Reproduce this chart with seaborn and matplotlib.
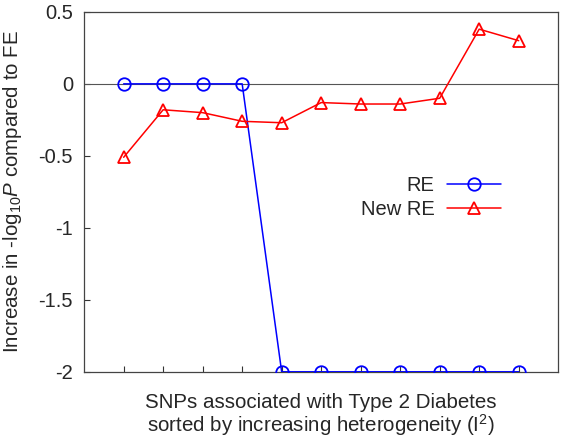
import numpy as np
import pandas as pd
import matplotlib
matplotlib.use("Agg")
import matplotlib.pyplot as plt
import seaborn as sns

# SNP index (sorted by increasing heterogeneity)
snp = list(range(1, 12))
re_vals = [0, 0, 0, 0, -2, -2, -2, -2, -2, -2, -2]
new_re_vals = [-0.51, -0.18, -0.20, -0.26, -0.27, -0.13, -0.14, -0.14, -0.10, 0.38, 0.30]
yticks = [-2, -1.5, -1, -0.5, 0, 0.5]
ytick_labels = ["-2", "-1.5", "-1", "-0.5", "0", "0.5"]

sns.set_style("white")
plt.rcParams["font.family"] = ["Liberation Sans", "DejaVu Sans"]
plt.rcParams["axes.unicode_minus"] = False
plt.rcParams["mathtext.fontset"] = "custom"
plt.rcParams["mathtext.rm"] = "Liberation Sans"
plt.rcParams["mathtext.it"] = "Liberation Sans:italic"

df = pd.DataFrame({"snp": snp, "RE": re_vals, "New RE": new_re_vals})

fig = plt.figure(figsize=(5.61, 4.4), dpi=100)
ax = fig.add_axes([0.150, 0.155, 0.845, 0.818])

ax.axhline(0, color="#555555", lw=0.8, zorder=1)

sns.lineplot(data=df, x="snp", y="RE", ax=ax, color="#0000ff", lw=1.1,
             marker="o", markersize=9, markerfacecolor="none",
             markeredgecolor="#0000ff", markeredgewidth=1.3, label="RE", zorder=3)
sns.lineplot(data=df, x="snp", y="New RE", ax=ax, color="#ff0000", lw=1.1,
             marker="^", markersize=9, markerfacecolor="none",
             markeredgecolor="#ff0000", markeredgewidth=1.3, label="New RE", zorder=3)

ax.set_xlim(0, 12)
ax.set_ylim(-2, 0.5)
ax.set_xticks(snp)
ax.set_xticklabels([])
ax.set_yticks(yticks)
ax.set_yticklabels(ytick_labels, fontsize=14.5)
ax.tick_params(axis="both", direction="in", length=4, width=0.8, color="#333333")
ax.tick_params(axis="y", pad=8)
ax.tick_params(left=True, bottom=True)

for s in ax.spines.values():
    s.set_color("#444444")
    s.set_linewidth(0.9)

ax.set_xlabel("SNPs associated with Type 2 Diabetes\nsorted by increasing heterogeneity (I$^2$)",
              fontsize=14.8, labelpad=12, linespacing=1.0)
ylab = ax.set_ylabel("Increase in -log$_{10}$$P$ compared to FE", fontsize=14.8)
ylab.set_verticalalignment("center")
ax.yaxis.set_label_coords(-0.152, 0.5)

ax.legend(loc="center right", bbox_to_anchor=(0.893, 0.552), bbox_transform=fig.transFigure,
          frameon=False, markerfirst=False, fontsize=14.5, handlelength=2.7,
          handletextpad=0.6, labelspacing=0.25, borderpad=0, borderaxespad=0)

fig.savefig("out.png", dpi=100)
